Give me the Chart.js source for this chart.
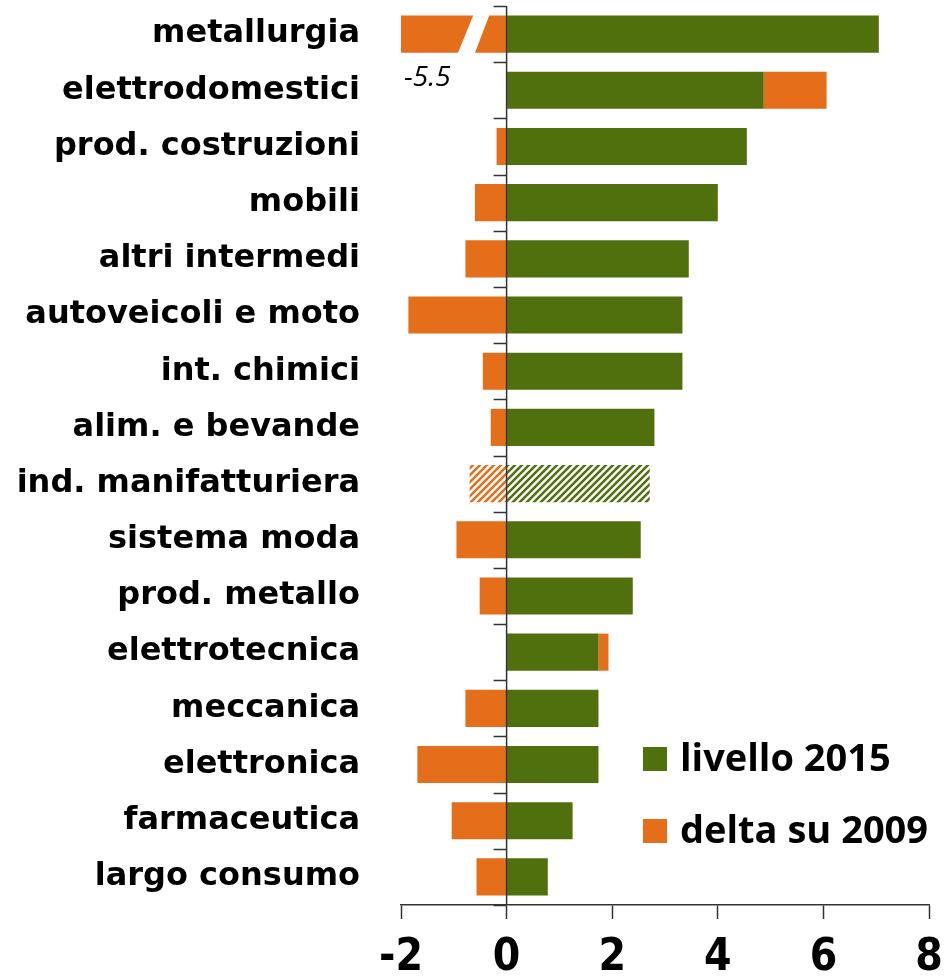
<!DOCTYPE html>
<html><head><meta charset="utf-8">
<script src="https://cdn.jsdelivr.net/npm/chart.js@4/dist/chart.umd.min.js"></script>
<style>html,body{margin:0;padding:0;background:#fff}#wrap{width:944px;height:976px;position:relative}canvas{display:block}</style>
</head><body><div id="wrap"><canvas id="c" width="944" height="976"></canvas></div>
<script>
const categories = ['metallurgia','elettrodomestici','prod. costruzioni','mobili','altri intermedi','autoveicoli e moto','int. chimici','alim. e bevande','ind. manifatturiera','sistema moda','prod. metallo','elettrotecnica','meccanica','elettronica','farmaceutica','largo consumo'];
const livello2015 = [7.05, 4.87, 4.55, 4.0, 3.45, 3.33, 3.33, 2.8, 2.71, 2.54, 2.39, 1.74, 1.74, 1.74, 1.25, 0.78];
const delta2009 = [-5.5, 1.19, -0.19, -0.6, -0.78, -1.86, -0.45, -0.3, -0.7, -0.95, -0.51, 0.19, -0.78, -1.69, -1.04, -0.57];
const xTicks = [-2, 0, 2, 4, 6, 8];
const hatchedCategories = ['ind. manifatturiera'];
const seriesLabels = ['livello 2015', 'delta su 2009'];

const GREEN = '#50700e';
const ORANGE = '#e46e19';
const LABEL_FONT = '"DejaVu Sans", sans-serif';
const LEGEND_FONT = '"Open Sans", sans-serif';
const TICK_FONT = '"Liberation Sans Narrow", "DejaVu Sans Condensed", "Open Sans", sans-serif';

function makeHatch(color) {
  const s = 7;
  const c = document.createElement('canvas');
  c.width = s; c.height = s;
  const g = c.getContext('2d');
  g.fillStyle = '#fff';
  g.fillRect(0, 0, s, s);
  g.strokeStyle = color;
  g.lineWidth = 2.5;
  g.lineCap = 'square';
  g.beginPath();
  g.moveTo(-1, 1); g.lineTo(1, -1);
  g.moveTo(0, s); g.lineTo(s, 0);
  g.moveTo(s - 1, s + 1); g.lineTo(s + 1, s - 1);
  g.stroke();
  return g.createPattern(c, 'repeat');
}
const ctx0 = document.getElementById('c').getContext('2d');

function fillFor(color) {
  const pat = makeHatch(color);
  return (ctx) => hatchedCategories.includes(categories[ctx.dataIndex]) ? pat : color;
}

const decor = {
  id: 'decor',
  afterDatasetsDraw(chart) {
    const { ctx, chartArea: ca, scales: { x, y } } = chart;
    const x0 = x.getPixelForValue(0);
    const meta = chart.getDatasetMeta(1);
    ctx.save();
    delta2009.forEach((v, i) => {
      if (v < x.min) {
        const el = meta.data[i];
        const top = el.y - el.height / 2 - 1, bot = el.y + el.height / 2 + 1;
        ctx.fillStyle = '#fff';
        ctx.beginPath();
        ctx.moveTo(x0 - 33, top);
        ctx.lineTo(x0 - 17, top);
        ctx.lineTo(x0 - 32, bot);
        ctx.lineTo(x0 - 49, bot);
        ctx.closePath();
        ctx.fill();
        ctx.fillStyle = '#000';
        ctx.font = 'italic 28px "Open Sans", sans-serif';
        ctx.textAlign = 'left';
        ctx.textBaseline = 'alphabetic';
        ctx.fillText(String(v), x.getPixelForValue(x.min) + 3, bot + 32);
      }
    });
    ctx.strokeStyle = '#333';
    ctx.lineWidth = 1.5;
    ctx.beginPath();
    ctx.moveTo(x0, ca.top);
    ctx.lineTo(x0, ca.bottom);
    ctx.stroke();
    for (let i = 0; i <= categories.length; i++) {
      const yy = Math.round(y.getPixelForValue(i - 0.5)) + 0.5;
      ctx.beginPath();
      ctx.moveTo(x0 - 13, yy);
      ctx.lineTo(x0, yy);
      ctx.stroke();
    }
    ctx.restore();
  },
  afterDraw(chart) {
    const { ctx } = chart;
    ctx.save();
    const items = chart.data.datasets.map(d => ({ label: d.label, color: d.legendColor }));
    const baseY = [771, 843];
    items.forEach((it, k) => {
      ctx.fillStyle = it.color;
      ctx.fillRect(643, baseY[k] - 24, 24, 24);
      ctx.fillStyle = '#000';
      ctx.font = 'bold 38px ' + LEGEND_FONT;
      ctx.textAlign = 'left';
      ctx.textBaseline = 'alphabetic';
      ctx.fillText(it.label, 680, baseY[k]);
    });
    ctx.restore();
  }
};

new Chart(ctx0, {
  type: 'bar',
  data: {
    labels: categories,
    datasets: [
      { label: seriesLabels[0], data: livello2015, backgroundColor: fillFor(GREEN), legendColor: GREEN, borderWidth: 0, categoryPercentage: 1, barPercentage: 0.66 },
      { label: seriesLabels[1], data: delta2009, backgroundColor: fillFor(ORANGE), legendColor: ORANGE, borderWidth: 0, categoryPercentage: 1, barPercentage: 0.66 }
    ]
  },
  options: {
    indexAxis: 'y',
    responsive: false,
    animation: false,
    devicePixelRatio: 1,
    layout: { padding: { left: 0, right: 15, top: 6, bottom: 0 } },
    plugins: { legend: { display: false }, tooltip: { enabled: false } },
    scales: {
      x: {
        type: 'linear', min: -2, max: 8, stacked: true,
        afterBuildTicks: (s) => { s.ticks = xTicks.map(v => ({ value: v })); },
        afterFit: (s) => { s.height = 71; s.paddingLeft = 0; s.paddingRight = 0; },
        grid: { drawOnChartArea: false, drawTicks: true, tickLength: 14, tickColor: '#333', tickWidth: 1.5 },
        border: { display: true, color: '#333', width: 1.5 },
        ticks: { color: '#000', padding: 13, font: { family: TICK_FONT, size: 44, weight: 'bold' } }
      },
      y: {
        type: 'category', stacked: true,
        afterFit: (s) => { s.width = 401; s.paddingTop = 0; s.paddingBottom = 0; },
        grid: { display: false, drawTicks: false },
        border: { display: false },
        ticks: { color: '#000', padding: 41, font: { family: LABEL_FONT, size: 32, weight: 'bold' } }
      }
    }
  },
  plugins: [decor]
});
</script>
</body></html>
